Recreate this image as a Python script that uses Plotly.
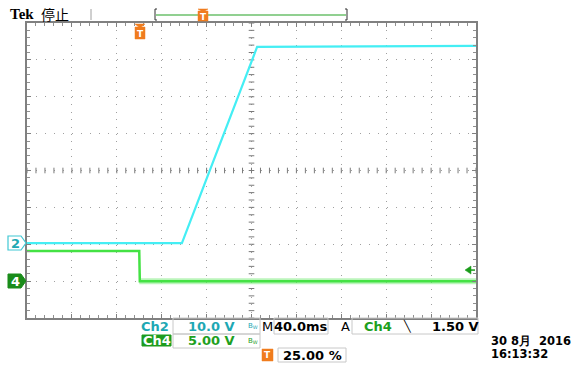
import numpy as np
import plotly.graph_objects as go

# ---- data (oscilloscope capture) ----
# time axis in ms, 40 ms/div, trigger at 25 % of record
time_ch2 = [-100, 38, 105, 300]          # ms
volt_ch2 = [0.3, 0.3, 53.5, 53.8]        # V  (Ch2, 10 V/div)
time_ch4 = [-100, 0, 0.5, 300]           # ms
volt_ch4 = [4.1, 4.1, 0.0, 0.0]          # V  (Ch4, 5 V/div)
time_ch4_noise = [0, 45, 300]            # ms (region with wider noise band)
volt_ch4_noise = [0.0, 0.0, 0.0]

ch2_scale, ch2_offset = 10.0, -2.0       # V/div, ground position in div
ch4_scale, ch4_offset = 5.0, -3.0
trig_level = 1.50

W, H = 582, 365
L, R, T, B = 27, 476, 23, 318
pw, ph = R - L, B - T


def fx(x):
    return (x - L) / pw


def fy(y):
    return (B - y) / ph


def to_div(v, scale, off):
    return [val / scale + off for val in v]


fig = go.Figure()

# centre-line tick marks of the graticule
minor_t = np.arange(-100, 300.01, 8)
minor_v = np.arange(-4, 4.01, 0.2)
fig.add_trace(go.Scatter(x=minor_t, y=[0] * len(minor_t), mode="markers",
                         marker=dict(symbol="line-ns-open", size=4, color="#7a7a7a",
                                     line=dict(color="#7a7a7a", width=1)),
                         hoverinfo="skip", showlegend=False))
fig.add_trace(go.Scatter(x=[100] * len(minor_v), y=minor_v, mode="markers",
                         marker=dict(symbol="line-ew-open", size=4, color="#7a7a7a",
                                     line=dict(color="#7a7a7a", width=1)),
                         hoverinfo="skip", showlegend=False))

# Ch4 noise band + trace
fig.add_trace(go.Scatter(x=time_ch4_noise, y=to_div(volt_ch4_noise, ch4_scale, ch4_offset),
                         mode="lines", line=dict(color="rgba(120,235,120,0.5)", width=6),
                         hoverinfo="skip", showlegend=False))
fig.add_trace(go.Scatter(x=time_ch4, y=to_div(volt_ch4, ch4_scale, ch4_offset),
                         mode="lines", line=dict(color="#44e244", width=2.5),
                         name="Ch4", showlegend=False))
# Ch2 trace
fig.add_trace(go.Scatter(x=time_ch2, y=to_div(volt_ch2, ch2_scale, ch2_offset),
                         mode="lines", line=dict(color="#44eef4", width=2.2),
                         name="Ch2", showlegend=False))

shapes = []
annotations = []


def path_px(points):
    return "M " + " L ".join(f"{fx(x):.5f},{fy(y):.5f}" for x, y in points) + " Z"


def txt(x, y, s, color="black", size=13, anchor="center", family="DejaVu Sans"):
    annotations.append(dict(x=fx(x), y=fy(y), xref="paper", yref="paper",
                            xanchor=anchor, yanchor="middle",
                            text=s, showarrow=False,
                            font=dict(size=size, color=color, family=family)))


# channel ground markers
shapes.append(dict(type="path", xref="paper", yref="paper",
                   path=path_px([(8, 236), (21, 236), (26, 243), (21, 250), (8, 250)]),
                   fillcolor="white", line=dict(color="#40c8d4", width=1.2)))
txt(15, 243.5, "<b>2</b>", "#20a8b4", size=13)
shapes.append(dict(type="path", xref="paper", yref="paper",
                   path=path_px([(8, 274), (21, 274), (26, 281), (21, 288), (8, 288)]),
                   fillcolor="#1a8c1a", line=dict(color="#1a8c1a", width=1)))
txt(15, 281.5, "<b>4</b>", "white", size=13)

# trigger level arrow (right)
ty = to_div([trig_level], ch4_scale, ch4_offset)[0]
typx = B - (ty + 4) / 8 * ph
shapes.append(dict(type="path", xref="paper", yref="paper",
                   path=path_px([(465, typx), (471, typx - 4), (471, typx + 4)]),
                   fillcolor="#1a9c1a", line=dict(color="#1a9c1a", width=0.5)))
shapes.append(dict(type="line", xref="paper", yref="paper", x0=fx(470), x1=fx(475),
                   y0=fy(typx), y1=fy(typx), line=dict(color="#1a9c1a", width=1.5)))

ORANGE = "#f07c1e"


def t_marker(cx, top, bottom, tri=4):
    shapes.append(dict(type="path", xref="paper", yref="paper",
                       path=path_px([(cx - 5, top), (cx + 5, top), (cx, top + tri)]),
                       fillcolor=ORANGE, line=dict(color=ORANGE, width=0.5)))
    shapes.append(dict(type="rect", xref="paper", yref="paper",
                       x0=fx(cx - 5), x1=fx(cx + 5), y0=fy(bottom), y1=fy(top + tri - 1),
                       fillcolor=ORANGE, line=dict(color=ORANGE, width=0.5)))
    txt(cx, (top + tri + bottom) / 2, "<b>T</b>", "white", size=9)


# trigger position marker at top of graticule
t_marker(140, 24, 39)
# record bar on top
shapes.append(dict(type="line", xref="paper", yref="paper", x0=fx(91), x1=fx(91),
                   y0=fy(9), y1=fy(20), line=dict(color="#a0a0a0", width=1)))
for bx, d in [(155, 1), (347, -1)]:
    shapes.append(dict(type="line", xref="paper", yref="paper", x0=fx(bx), x1=fx(bx),
                       y0=fy(9), y1=fy(20), line=dict(color="#303030", width=1)))
    for yy in (9, 20):
        shapes.append(dict(type="line", xref="paper", yref="paper", x0=fx(bx), x1=fx(bx + 2 * d),
                           y0=fy(yy), y1=fy(yy), line=dict(color="#303030", width=1)))
shapes.append(dict(type="line", xref="paper", yref="paper", x0=fx(156), x1=fx(346),
                   y0=fy(15), y1=fy(15), line=dict(color="#6cc06c", width=1.5)))
t_marker(203, 9, 21, tri=3)

txt(8, 14, "<b>Tek</b>", "black", size=15, anchor="left", family="Liberation Serif, serif")
txt(39, 14, "停止", "black", size=14, anchor="left", family="Noto Sans CJK SC")

# bottom readout boxes
BOX = "#c8c8c8"


def box(x0, y0, x1, y1, fill=None, color=BOX):
    shapes.append(dict(type="rect", xref="paper", yref="paper",
                       x0=fx(x0), x1=fx(x1), y0=fy(y1), y1=fy(y0),
                       fillcolor=fill if fill else "rgba(0,0,0,0)",
                       line=dict(color=color, width=1)))


TEAL = "#1ea8b4"
GREEN = "#1ea01e"

txt(155, 326, "<b>Ch2</b>", TEAL)
box(173, 318, 260, 334)
txt(211, 326, "<b>10.0 V</b>", TEAL)
txt(253, 326, "B<sub>W</sub>", TEAL, size=7)

box(142, 335, 171, 346, fill="#1e9c1e", color="#1e9c1e")
txt(156.5, 340.5, "<b>Ch4</b>", "white")
box(173, 334, 260, 348)
txt(211, 340.5, "<b>5.00 V</b>", GREEN)
txt(253, 340.5, "B<sub>W</sub>", GREEN, size=7)

txt(267, 326, "M", "black")
box(274, 318, 328, 334)
txt(301, 326, "<b>40.0ms</b>", "black")
txt(345, 326, "A", "black")
box(352, 318, 478, 334)
txt(378, 326, "<b>Ch4</b>", GREEN)
txt(407, 326, "<b>\u2572</b>", "black", size=11)
txt(455, 326, "<b>1.50 V</b>", "black")

shapes.append(dict(type="rect", xref="paper", yref="paper", x0=fx(262), x1=fx(273),
                   y0=fy(361), y1=fy(349), fillcolor=ORANGE, line=dict(color=ORANGE, width=0.5)))
txt(267.5, 355, "<b>T</b>", "white", size=9)
box(278, 348, 346, 362)
txt(312, 355, "<b>25.00 %</b>", "black")

txt(489, 340.5, "<b>30 8月  2016</b>", "black", size=11.5, anchor="left")
txt(489, 353.5, "<b>16:13:32</b>", "black", size=11.5, anchor="left")

GRID = "#a0a0a0"
fig.update_layout(
    width=W, height=H, margin=dict(l=L, r=W - R, t=T, b=H - B),
    paper_bgcolor="white", plot_bgcolor="white",
    shapes=shapes, annotations=annotations, showlegend=False,
    xaxis=dict(range=[-100, 300], dtick=40, tick0=-100, showgrid=True, gridcolor=GRID,
               griddash="1px,6.4px", gridwidth=1, zeroline=False, showticklabels=False,
               showline=True, linecolor="#808080", linewidth=2, mirror="allticks",
               ticks="inside", ticklen=4, tickcolor="#808080",
               minor=dict(dtick=8, tick0=-100, ticks="inside", ticklen=3, tickcolor="#909090",
                          showgrid=False)),
    yaxis=dict(range=[-4, 4], dtick=1, tick0=-4, showgrid=True, gridcolor=GRID,
               griddash="1px,8px", gridwidth=1, zeroline=False, showticklabels=False,
               showline=True, linecolor="#808080", linewidth=2, mirror="allticks",
               ticks="inside", ticklen=4, tickcolor="#808080",
               minor=dict(dtick=0.2, tick0=-4, ticks="inside", ticklen=3, tickcolor="#909090",
                          showgrid=False)),
)

fig.write_html("out.html", config={"displayModeBar": False},
               post_script="document.body.style.margin='0';document.body.style.overflow='hidden';")
